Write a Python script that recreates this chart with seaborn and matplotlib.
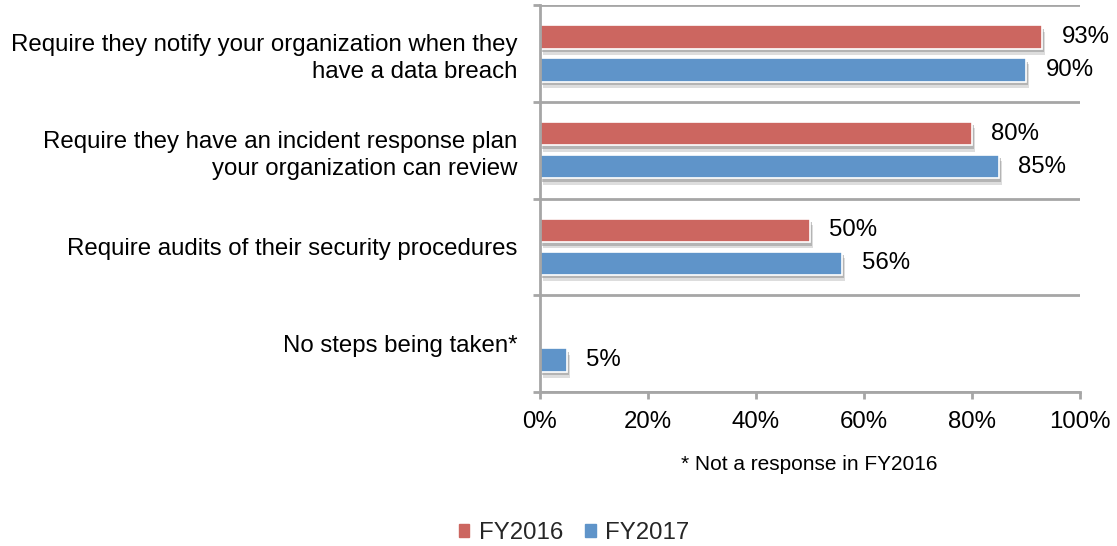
import numpy as np
import pandas as pd
import matplotlib
matplotlib.use("Agg")
import matplotlib.pyplot as plt
import matplotlib.patheffects as pe
from matplotlib.ticker import FixedLocator, PercentFormatter
import seaborn as sns

# Survey responses: steps taken with third-party vendors
categories = [
    "Require they notify your organization when they\nhave a data breach",
    "Require they have an incident response plan\nyour organization can review",
    "Require audits of their security procedures",
    "No steps being taken*",
]
fy2016 = [93, 80, 50, np.nan]
fy2017 = [90, 85, 56, 5]
series_names = ["FY2016", "FY2017"]
x_ticks = [0, 20, 40, 60, 80, 100]
footnote = "* Not a response in FY2016"

df = pd.DataFrame({
    "category": categories * 2,
    "value": fy2016 + fy2017,
    "year": [series_names[0]] * len(categories) + [series_names[1]] * len(categories),
})

sns.set_theme(style="white")
plt.rcParams["font.family"] = ["Liberation Sans", "DejaVu Sans"]

RED = "#CC6660"
BLUE = "#5F94C9"
GRID = "#A6A6A6"
FS = 17.3

fig = plt.figure(figsize=(11.17, 5.46), dpi=100)
ax = fig.add_axes([0.4834, 0.282, 0.4835, 0.7088])

sns.barplot(
    data=df, y="category", x="value", hue="year", orient="h",
    order=categories, hue_order=series_names,
    palette=[RED, BLUE], saturation=1, width=0.68, gap=0.29,
    linewidth=1.2, edgecolor="white", ax=ax, legend=False,
)

# Soft drop shadow under each bar
shadow = [
    pe.SimplePatchShadow(offset=(2, -4.5), shadow_rgbFace="#b5b5b5", alpha=0.45),
    pe.SimplePatchShadow(offset=(1.5, -2.5), shadow_rgbFace="#8c8c8c", alpha=0.5),
    pe.Normal(),
]
for bar in ax.patches:
    bar.set_path_effects(shadow)

# Value labels next to each bar end
for cont in ax.containers:
    labels = ["" if np.isnan(v) else f"{v:.0f}%" for v in cont.datavalues]
    ax.bar_label(cont, labels=labels, padding=14, fontsize=FS, color="black")

ax.set_xlim(0, 100)
ax.set_ylim(len(categories) - 0.5, -0.5)
ax.xaxis.set_major_locator(FixedLocator(x_ticks))
ax.xaxis.set_major_formatter(PercentFormatter(decimals=0))
ax.set_xlabel("")
ax.set_ylabel("")

# Category separators as minor-tick gridlines
ax.yaxis.set_minor_locator(FixedLocator(np.arange(-0.5, len(categories), 1.0)))
ax.grid(False)
ax.grid(axis="y", which="minor", color=GRID, linewidth=2)
ax.tick_params(axis="y", which="major", length=0, pad=16, labelsize=FS, labelcolor="black")
ax.tick_params(axis="y", which="minor", left=True, length=5, width=2, color=GRID)
ax.tick_params(axis="x", which="major", bottom=True, length=5, width=2, color=GRID,
               pad=9, labelsize=FS, labelcolor="black")
for lbl in ax.get_yticklabels():
    lbl.set_linespacing(1.3)

for side in ["top", "right"]:
    ax.spines[side].set_visible(False)
for side in ["left", "bottom"]:
    ax.spines[side].set_color(GRID)
    ax.spines[side].set_linewidth(2)

fig.text(809 / 1117, 1 - 464 / 546, footnote, ha="center", va="center", fontsize=15, color="black")

handles = [plt.Rectangle((0, 0), 1, 1, color=c) for c in (RED, BLUE)]
fig.legend(handles, series_names, loc="center", bbox_to_anchor=(574 / 1117, 1 - 533 / 546),
           ncol=2, frameon=False, fontsize=FS, handlelength=0.45, handleheight=0.45,
           handletextpad=0.4, columnspacing=0.9)

fig.savefig("out.png", dpi=100)
